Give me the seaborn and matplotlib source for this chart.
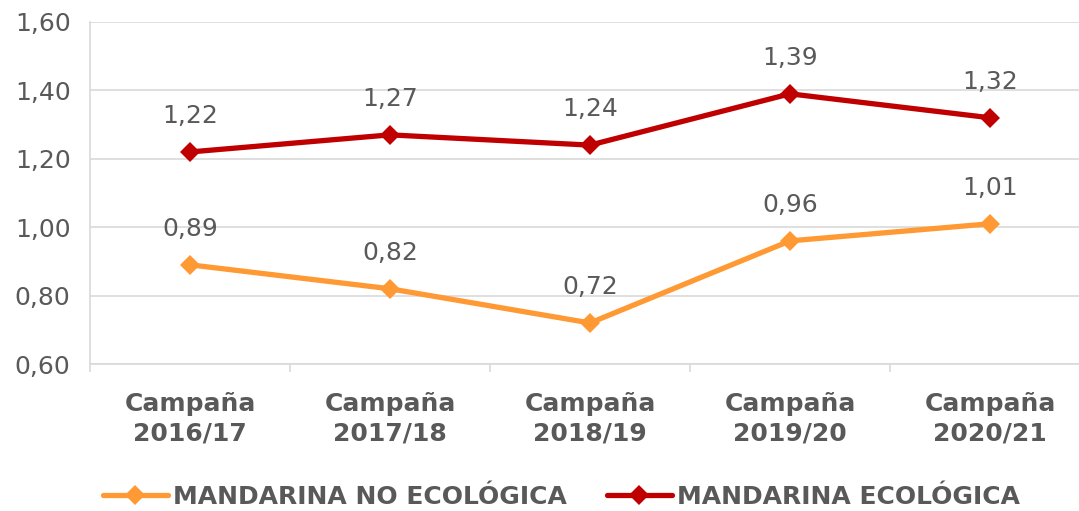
import matplotlib
matplotlib.use("Agg")
import matplotlib.pyplot as plt
import numpy as np
import pandas as pd
import seaborn as sns

campaigns = ["Campaña\n2016/17", "Campaña\n2017/18", "Campaña\n2018/19",
             "Campaña\n2019/20", "Campaña\n2020/21"]
no_eco = [0.89, 0.82, 0.72, 0.96, 1.01]
eco = [1.22, 1.27, 1.24, 1.39, 1.32]
series_names = ["MANDARINA NO ECOLÓGICA", "MANDARINA ECOLÓGICA"]
y_ticks = [0.60, 0.80, 1.00, 1.20, 1.40, 1.60]

sns.set_theme(style="white")
plt.rcParams["font.family"] = ["DejaVu Sans"]

text_gray = "#595959"
grid_gray = "#D9D9D9"
colors = ["#FF9933", "#C00000"]

df = pd.DataFrame({
    "x": list(range(len(campaigns))) * 2,
    "valor": no_eco + eco,
    "serie": [series_names[0]] * len(no_eco) + [series_names[1]] * len(eco),
})

fig = plt.figure(figsize=(10.79, 5.11), dpi=100)
ax = fig.add_axes([90 / 1079, 147 / 511, 1000 / 1079, 342 / 511])

sns.lineplot(data=df, x="x", y="valor", hue="serie", palette=colors,
             marker="D", markersize=10, markeredgewidth=0, linewidth=3.8,
             ax=ax, legend=True)

for vals in (no_eco, eco):
    for i, v in enumerate(vals):
        ax.annotate(f"{v:.2f}".replace(".", ","), (i, v), xytext=(0, 24),
                    textcoords="offset pixels", ha="center", va="bottom",
                    fontsize=18, color=text_gray)

ax.set_xlim(-0.5, 4.5)
ax.set_ylim(0.60, 1.60)
ax.set_yticks(y_ticks)
ax.set_yticklabels([f"{t:.2f}".replace(".", ",") for t in y_ticks],
                   fontsize=18, color=text_gray)
ax.set_xticks(range(len(campaigns)))
ax.set_xticklabels(campaigns, fontsize=18, fontweight="bold", color=text_gray,
                   linespacing=1.3)
ax.set_xticks(np.arange(-0.5, 5.0, 1.0), minor=True)
ax.tick_params(axis="x", which="major", length=0, pad=20)
ax.tick_params(axis="x", which="minor", length=6, width=1.2, color=grid_gray,
               bottom=True)
ax.tick_params(axis="y", length=0, pad=14)
ax.set_xlabel("")
ax.set_ylabel("")

ax.yaxis.grid(True, color=grid_gray, linewidth=1.2)
ax.xaxis.grid(False)
for side in ("top", "right"):
    ax.spines[side].set_visible(False)
for side in ("left", "bottom"):
    ax.spines[side].set_color(grid_gray)
    ax.spines[side].set_linewidth(1.2)

handles, labels = ax.get_legend_handles_labels()
leg = ax.legend(handles, labels, loc="center", bbox_to_anchor=(0.52, 14 / 511),
                bbox_transform=fig.transFigure, ncol=2, frameon=False,
                fontsize=18, handlelength=2.6, columnspacing=1.6,
                handletextpad=0.2)
for t in leg.get_texts():
    t.set_color(text_gray)
    t.set_fontweight("bold")

fig.savefig("out.png", dpi=100)
